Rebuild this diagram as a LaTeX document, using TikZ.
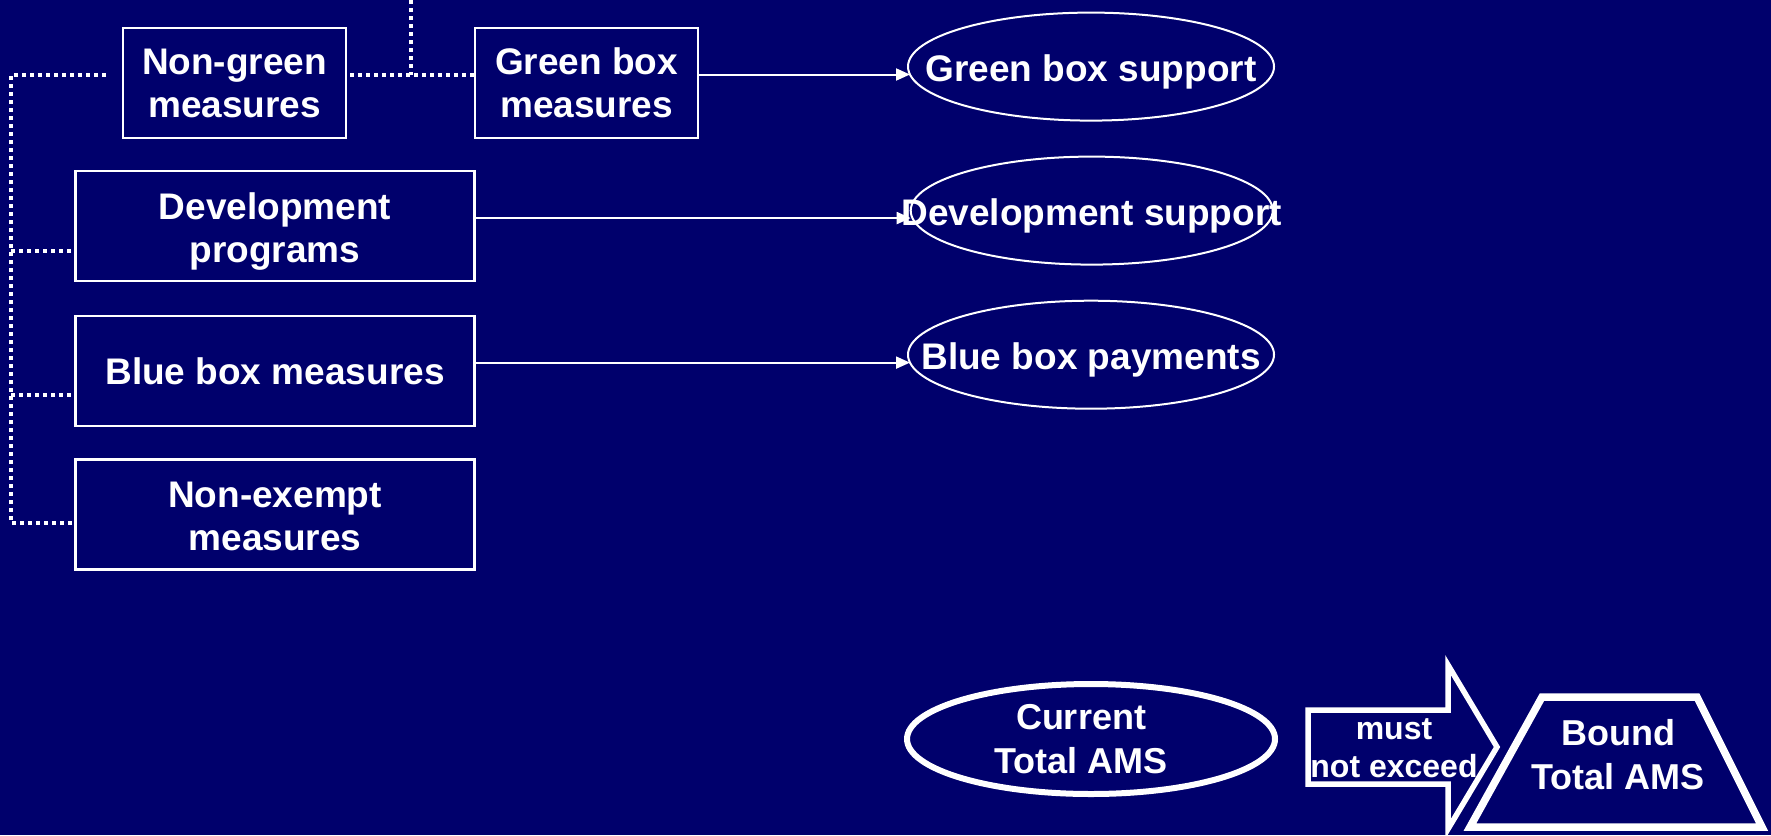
\documentclass[tikz,border=0pt]{standalone}
\usepackage{fontspec}
\setmainfont{Liberation Sans}
\usetikzlibrary{shapes.geometric,arrows.meta,calc}
\definecolor{navy}{RGB}{0,0,108}
\begin{document}
\begin{tikzpicture}[x=1pt,y=-1pt,
  box/.style={draw=white, line width=2.2pt, fill=navy, text=white, minimum width=#1, minimum height=110pt, inner sep=0pt, align=center, font=\fontsize{37}{43}\selectfont\bfseries},
  ell/.style={draw=white, line width=2pt, ellipse, inner sep=0pt, minimum width=#1, minimum height=108pt},
  lab/.style={text=white, inner sep=0pt, align=center, font=\fontsize{37}{43}\selectfont\bfseries},
  smalllab/.style={text=white, inner sep=0pt, align=center, font=\fontsize{32}{38.5}\selectfont\bfseries},
  biglab/.style={text=white, inner sep=0pt, align=center, font=\fontsize{36}{44}\selectfont\bfseries},
  arr/.style={draw=white, line width=2pt, -{Triangle[length=14pt,width=12pt]}},
  dots/.style={draw=white, line width=4pt, dash pattern=on 4pt off 4pt},
  thick shape/.style={draw=white, fill=navy, line join=miter}
]
\useasboundingbox (0,0) rectangle (1771,835);
\fill[navy] (0,0) rectangle (1771,835);

% boxes
\node[box=223pt] (ng) at (234.5,83) {Non-green\\measures};
\node[box=223pt] (gb) at (586.5,83) {Green box\\measures};
\node[box=399pt] (dev) at (275,226.25) {};
\node[lab, yshift=-5pt] at (dev) {Development\\programs};
\node[box=399pt] (bb) at (275,371) {Blue box measures};
\node[box=399pt] (ne) at (275,514.5) {};
\node[lab, yshift=-1.5pt] at (ne) {Non-exempt\\measures};

% ellipses
\node[ell=366pt] (gs) at (1091,66.6) {};
\node[lab, yshift=-5pt] at (gs) {Green box support};
\node[ell=362pt] (ds) at (1091.7,210.6) {};
\node[lab, yshift=-5pt] at (ds) {Development support};
\node[ell=366pt] (bp) at (1091,354.7) {};
\node[lab, yshift=-5pt] at (bp) {Blue box payments};

% solid arrows
\coordinate (gbA) at ($(gb.east)+(0,-8.5)$);
\coordinate (devA) at ($(dev.east)+(0,-8.2)$);
\coordinate (bbA) at ($(bb.east)+(0,-8.4)$);
\draw[arr, shorten >=-3pt] (gbA) -- (gbA -| gs.west);
\draw[arr, shorten >=-1pt] (devA) -- (devA -| ds.west);
\draw[arr, shorten >=-3pt] (bbA) -- (bbA -| bp.west);

% dotted connectors
\coordinate (t1) at (11,75);
\coordinate (ngl) at (106,75);
\coordinate (ngr) at ($(ng.east)+(3,-8)$);
\coordinate (topv) at (411,0);
\coordinate (devC) at ($(dev.west)+(0,24.5)$);
\coordinate (bbC) at ($(bb.west)+(0,24)$);
\coordinate (neC) at ($(ne.west)+(0,8)$);
\draw[dots] (ngl) -- (t1) |- (neC);
\draw[dots] (t1 |- devC) -- (devC);
\draw[dots] (t1 |- bbC) -- (bbC);
\draw[dots] (ngr) -- (ngr -| gb.west);
\draw[dots] (topv) -- (topv |- ngr);

% bottom: current total AMS
\node[draw=white, line width=6pt, ellipse, inner sep=0pt, minimum width=368pt, minimum height=110pt] (cur) at (1091,739) {};
\node[biglab] at (1081,739) {Current\\Total AMS};

% block arrow
\draw[thick shape, line width=5.5pt] (1308,710) -- (1448,710) -- (1448,665) -- (1497,747) -- (1448,829) -- (1448,784) -- (1308,784) -- cycle;
\node[smalllab] (must) at (1394,748) {must\\not exceed};

% trapezoid
\draw[thick shape, line width=7.5pt] (1542,697) -- (1697,697) -- (1762,827) -- (1470,827) -- cycle;
\node[biglab] (bound) at (1618,755) {Bound\\Total AMS};
\end{tikzpicture}
\end{document}
